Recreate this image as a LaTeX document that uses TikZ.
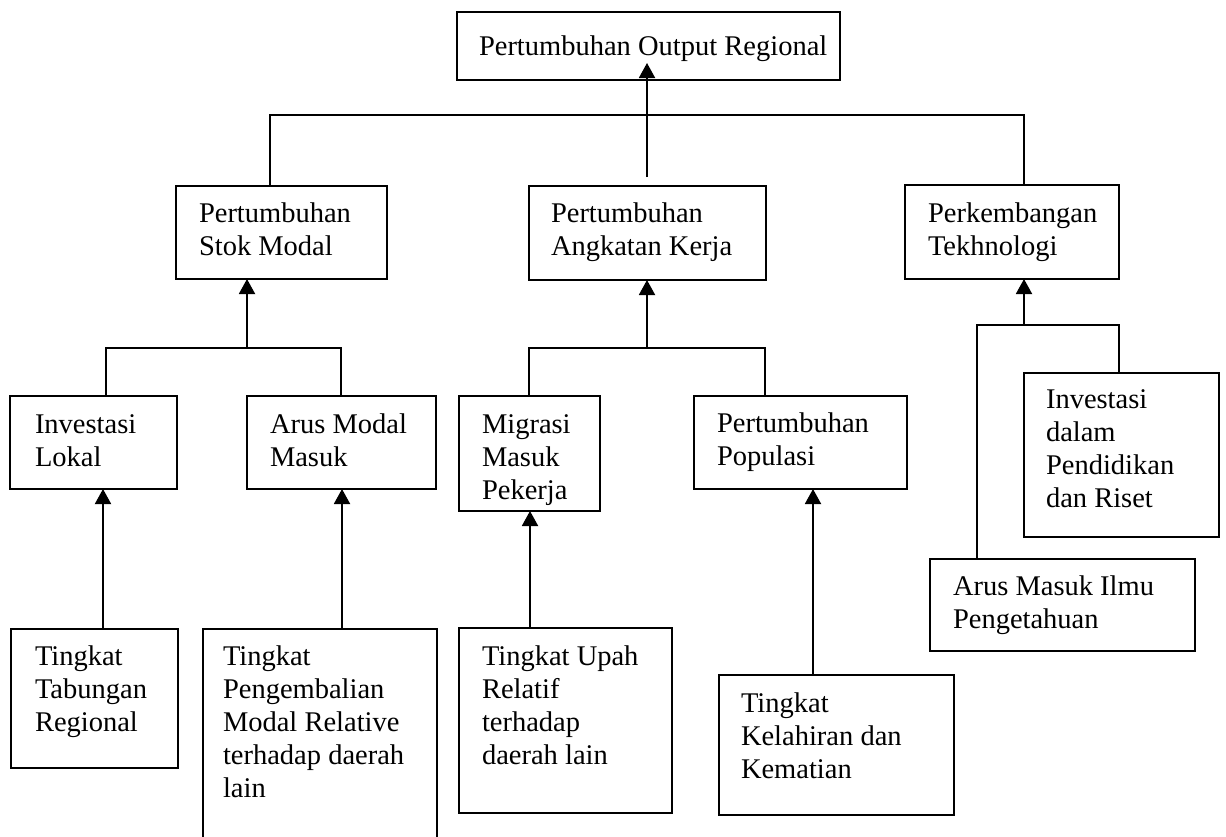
\documentclass[tikz,border=0pt]{standalone}
\usepackage{fontspec}
\setmainfont{Liberation Serif}
\usetikzlibrary{arrows.meta}
\newcommand\tb[1]{\parbox[t]{10cm}{\raggedright #1}}
\begin{document}
\begin{tikzpicture}[x=1pt,y=-1pt,
  bx/.style={draw=black, line width=1.9pt, inner sep=0pt, outer sep=0pt, anchor=north west, rectangle},
  txt/.style={inner sep=0pt, outer sep=0pt, anchor=base west, font=\fontsize{28.5}{33.2}\selectfont},
  ln/.style={draw=black, line width=1.9pt},
  arr/.style={ln, -{Triangle[length=15pt,width=16pt]}}]
\useasboundingbox (0,0) rectangle (1226,836);
\clip (0,0) rectangle (1226,836);
\fill[white] (0,0) rectangle (1226,836);

% boxes
\node[bx, minimum width=383pt, minimum height=68pt]  (top)  at (457,12)  {};
\node[bx, minimum width=211pt, minimum height=93pt]  (stok) at (176,186) {};
\node[bx, minimum width=237pt, minimum height=94pt]  (ang)  at (529,186) {};
\node[bx, minimum width=214pt, minimum height=94pt]  (tek)  at (905,185) {};
\node[bx, minimum width=167pt, minimum height=93pt]  (lok)  at (10,396)  {};
\node[bx, minimum width=189pt, minimum height=93pt]  (arus) at (247,396) {};
\node[bx, minimum width=141pt, minimum height=115pt] (mig)  at (459,396) {};
\node[bx, minimum width=213pt, minimum height=93pt]  (pop)  at (694,396) {};
\node[bx, minimum width=195pt, minimum height=164pt] (inv)  at (1024,373) {};
\node[bx, minimum width=265pt, minimum height=92pt]  (ilmu) at (930,559) {};
\node[bx, minimum width=167pt, minimum height=139pt] (tab)  at (11,629)  {};
\node[bx, minimum width=234pt, minimum height=240pt] (peng) at (203,629) {};
\node[bx, minimum width=213pt, minimum height=185pt] (upah) at (459,628) {};
\node[bx, minimum width=235pt, minimum height=140pt] (lahir) at (719,675) {};

% texts
\node[txt] (ttop)  at (479,55)  {Pertumbuhan Output Regional};
\node[txt] (tstok) at (199,222) {\tb{Pertumbuhan\\Stok Modal}};
\node[txt] (tang)  at (551,222) {\tb{Pertumbuhan\\Angkatan Kerja}};
\node[txt] (ttek)  at (928,222) {\tb{Perkembangan\\Tekhnologi}};
\node[txt] (tlok)  at (35,433)  {\tb{Investasi\\Lokal}};
\node[txt] (tarus) at (270,433) {\tb{Arus Modal\\Masuk}};
\node[txt] (tmig)  at (482,433) {\tb{Migrasi\\Masuk\\Pekerja}};
\node[txt] (tpop)  at (717,432) {\tb{Pertumbuhan\\Populasi}};
\node[txt] (tinv)  at (1046,408) {\tb{Investasi\\dalam\\Pendidikan\\dan Riset}};
\node[txt] (tilmu) at (953,595) {\tb{Arus Masuk Ilmu\\Pengetahuan}};
\node[txt] (ttab)  at (35,665)  {\tb{Tingkat\\Tabungan\\Regional}};
\node[txt] (tpeng) at (223,665) {\tb{Tingkat\\Pengembalian\\Modal Relative\\terhadap daerah\\lain}};
\node[txt] (tupah) at (482,665) {\tb{Tingkat Upah\\Relatif\\terhadap\\daerah lain}};
\node[txt] (tlahir) at (741,712) {\tb{Tingkat\\Kelahiran dan\\Kematian}};

% junction coordinates
\coordinate (hL) at (270,115);
\coordinate (hR) at (1024,115);
\coordinate (m0) at (647,177);
\coordinate (mtip) at (647,63);
\coordinate (sj) at (247,348);
\coordinate (sL) at (106,348);
\coordinate (sR) at (341,348);
\coordinate (aj) at (647,348);
\coordinate (aL) at (529,348);
\coordinate (aR) at (765,348);
\coordinate (tj) at (1024,325);
\coordinate (tL) at (977,325);
\coordinate (tR) at (1119,325);
\coordinate (v1) at (103,0);
\coordinate (v2) at (342,0);
\coordinate (v3) at (530,0);
\coordinate (v4) at (813,0);

% level 1
\draw[ln] (stok.north -| hL) -- (hL) -- (hR) -- (tek.north -| hR);
\draw[arr] (m0) -- (mtip);
% level 2
\draw[arr] (sj) -- (sj |- stok.south);
\draw[ln] (lok.north -| sL) -- (sL) -- (sR) -- (arus.north -| sR);
\draw[arr] (aj) -- (aj |- ang.south);
\draw[ln] (mig.north -| aL) -- (aL) -- (aR) -- (pop.north -| aR);
\draw[arr] (tj) -- (tj |- tek.south);
\draw[ln] (ilmu.north -| tL) -- (tL) -- (tR) -- (inv.north -| tR);
% level 3
\draw[arr] (tab.north -| v1) -- (lok.south -| v1);
\draw[arr] (peng.north -| v2) -- (arus.south -| v2);
\draw[arr] (upah.north -| v3) -- (mig.south -| v3);
\draw[arr] (lahir.north -| v4) -- (pop.south -| v4);
\end{tikzpicture}
\end{document}
